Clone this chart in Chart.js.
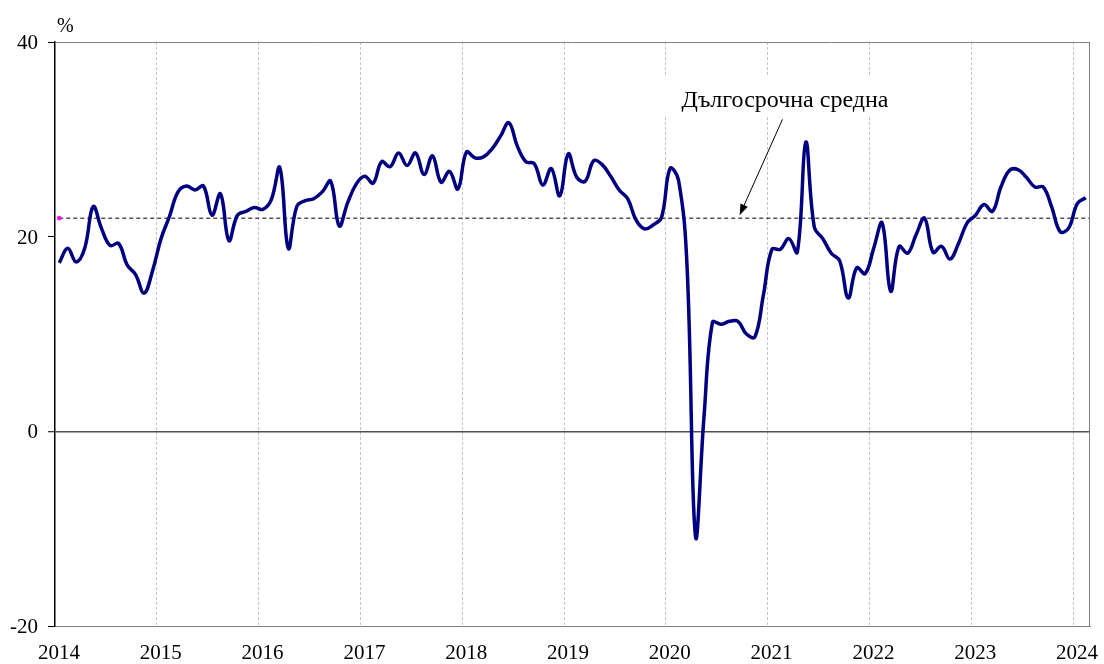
<!DOCTYPE html>
<html>
<head>
<meta charset="utf-8">
<script src="https://cdn.jsdelivr.net/npm/chart.js@4/dist/chart.umd.min.js"></script>
<style>html,body{margin:0;padding:0;background:#fff;}canvas{display:block;}</style>
</head>
<body>
<canvas id="c" width="1104" height="664"></canvas>
<script>
// ---- data (monthly, Jan 2014 - Feb 2024) ----
const years = ['2014','2015','2016','2017','2018','2019','2020','2021','2022','2023','2024'];
const v2014 = [17.3, 18.8, 17.4, 18.8, 23.1, 20.8, 19.1, 19.3, 17.1, 16.1, 14.2, 16.5];
const v2015 = [19.8, 22.1, 24.6, 25.2, 24.8, 25.2, 22.2, 24.4, 19.6, 22.2, 22.6, 23.0];
const v2016 = [22.8, 23.8, 27.1, 18.8, 23.1, 23.7, 23.9, 24.6, 25.7, 21.1, 23.5, 25.4];
const v2017 = [26.2, 25.5, 27.7, 27.2, 28.6, 27.3, 28.6, 26.4, 28.3, 25.6, 26.7, 24.9];
const v2018 = [28.7, 28.1, 28.2, 29.0, 30.3, 31.7, 29.3, 27.7, 27.5, 25.3, 27.0, 24.2];
const v2019 = [28.5, 26.1, 25.7, 27.8, 27.4, 26.2, 24.8, 23.9, 21.7, 20.8, 21.2, 22.0];
const v2020 = [27.0, 25.8, 17.0, -10.8, 1.5, 11.2, 11.0, 11.3, 11.3, 10.0, 9.7, 14.0];
const v2021 = [18.7, 18.7, 19.8, 18.4, 29.7, 21.0, 19.8, 18.3, 17.5, 13.7, 16.8, 16.2];
const v2022 = [18.8, 21.4, 14.4, 19.0, 18.3, 20.2, 21.9, 18.4, 19.0, 17.7, 19.3, 21.4];
const v2023 = [22.2, 23.3, 22.6, 25.1, 26.8, 26.9, 26.1, 25.1, 25.1, 23.0, 20.5, 20.9];
const v2024 = [23.4, 24.0];
const values = [].concat(v2014, v2015, v2016, v2017, v2018, v2019, v2020, v2021, v2022, v2023, v2024);
const longTermAverage = 21.9;
const yTickValues = [-20, 0, 20, 40];
const noteText = 'Дългосрочна средна';
const unitLabel = '%';

// ---- layout constants (month-index / value space) ----
const xMax = 122;
const yearTicks = years.map((y, k) => k * 12);
const notePos = {x: 86.05, y: 33.3};
const arrowFrom = {x: 85.75, y: 32.05};
const arrowTo = {x: 80.7, y: 22.2};
const noteBox = {x0: 71.3, x1: 99.6, y0: 32.3, y1: 36.5};

const serif = "'Liberation Serif', 'Times New Roman', serif";

const mainPoints = values.map((v, i) => ({x: i + 0.5, y: v}));
const avgPoints = [{x: 0.5, y: longTermAverage}, {x: xMax, y: longTermAverage}];

const overlay = {
  id: 'overlay',
  beforeDatasetsDraw(chart) {
    const {ctx, scales: {x, y}} = chart;
    ctx.save();
    ctx.fillStyle = '#ffffff';
    const bx0 = x.getPixelForValue(noteBox.x0), bx1 = x.getPixelForValue(noteBox.x1);
    const by0 = y.getPixelForValue(noteBox.y1), by1 = y.getPixelForValue(noteBox.y0);
    ctx.fillRect(bx0, by0, bx1 - bx0, by1 - by0);
    ctx.restore();
  },
  afterDatasetsDraw(chart) {
    const {ctx, chartArea, scales: {x, y}} = chart;
    ctx.save();
    // right border of plot area
    ctx.strokeStyle = '#808080';
    ctx.lineWidth = 1;
    ctx.beginPath();
    const rx = Math.round(chartArea.right) - 0.5;
    ctx.moveTo(rx, chartArea.top);
    ctx.lineTo(rx, chartArea.bottom);
    ctx.stroke();
    // note text
    ctx.fillStyle = '#000';
    ctx.font = "24px " + serif;
    ctx.textAlign = 'center';
    ctx.textBaseline = 'alphabetic';
    ctx.fillText(noteText, x.getPixelForValue(notePos.x), y.getPixelForValue(notePos.y));
    // arrow
    const x1 = x.getPixelForValue(arrowFrom.x), y1 = y.getPixelForValue(arrowFrom.y);
    const x2 = x.getPixelForValue(arrowTo.x), y2 = y.getPixelForValue(arrowTo.y);
    const ang = Math.atan2(y2 - y1, x2 - x1);
    const head = 11, half = 4;
    ctx.strokeStyle = '#000';
    ctx.lineWidth = 1;
    ctx.beginPath();
    ctx.moveTo(x1, y1);
    ctx.lineTo(x2 - Math.cos(ang) * head * 0.8, y2 - Math.sin(ang) * head * 0.8);
    ctx.stroke();
    ctx.beginPath();
    ctx.moveTo(x2, y2);
    ctx.lineTo(x2 - Math.cos(ang) * head - Math.sin(ang) * half, y2 - Math.sin(ang) * head + Math.cos(ang) * half);
    ctx.lineTo(x2 - Math.cos(ang) * head + Math.sin(ang) * half, y2 - Math.sin(ang) * head - Math.cos(ang) * half);
    ctx.closePath();
    ctx.fill();
    // unit label
    ctx.font = "20px " + serif;
    ctx.textAlign = 'left';
    ctx.textBaseline = 'middle';
    ctx.fillText(unitLabel, chartArea.left + 2, chartArea.top - 15);
    ctx.restore();
  }
};

new Chart(document.getElementById('c'), {
  type: 'line',
  data: {
    datasets: [
      {
        data: mainPoints,
        borderColor: '#000080',
        borderWidth: 3.5,
        pointRadius: 0,
        tension: 0.4,
        fill: false,
        order: 1
      },
      {
        data: avgPoints,
        borderColor: '#000000',
        borderWidth: 1,
        borderDash: [4, 3],
        pointRadius: 0,
        tension: 0,
        fill: false,
        order: 2
      },
      {
        data: [avgPoints[0]],
        showLine: false,
        pointStyle: 'rect',
        pointRadius: 2.8,
        pointBorderWidth: 0,
        pointBackgroundColor: '#ff00ff',
        pointBorderColor: '#ff00ff',
        order: 0
      }
    ]
  },
  options: {
    responsive: false,
    animation: false,
    devicePixelRatio: 1,
    events: [],
    layout: {padding: {top: 42, right: 14, bottom: 0, left: 0}},
    plugins: {legend: {display: false}, tooltip: {enabled: false}},
    scales: {
      x: {
        type: 'linear',
        min: 0,
        max: xMax,
        afterBuildTicks(scale) { scale.ticks = yearTicks.map(v => ({value: v})); },
        afterFit(scale) { scale.height = 38; scale.paddingLeft = 0; scale.paddingRight = 0; },
        ticks: {
          autoSkip: false,
          maxRotation: 0,
          padding: 15,
          labelOffset: 4,
          color: '#000',
          font: {family: serif, size: 21},
          callback: (v) => years[Math.round(v / 12)]
        },
        grid: {
          drawTicks: false,
          lineWidth: 1,
          color: (c) => (c.tick && c.tick.value === 0) ? 'rgba(0,0,0,0)' : '#c4c4c4'
        },
        border: {display: true, color: '#808080', width: 1, dash: [3, 2]}
      },
      y: {
        min: -20,
        max: 40,
        afterBuildTicks(scale) { scale.ticks = yTickValues.map(v => ({value: v})); },
        afterFit(scale) { scale.width = 55; },
        ticks: {
          padding: 10,
          labelOffset: 1.5,
          color: '#000',
          font: {family: serif, size: 21}
        },
        grid: {
          drawTicks: true,
          tickLength: 7,
          tickColor: '#000',
          tickWidth: 1,
          lineWidth: (c) => (c.tick && c.tick.value === 0) ? 1.5 : 1,
          color: (c) => {
            if (!c.tick) return 'rgba(0,0,0,0)';
            if (c.tick.value === 0) return '#505050';
            if (c.tick.value === 40) return '#808080';
            return 'rgba(0,0,0,0)';
          }
        },
        border: {display: true, color: '#000000', width: 1.5}
      }
    }
  },
  plugins: [overlay]
});
</script>
</body>
</html>
